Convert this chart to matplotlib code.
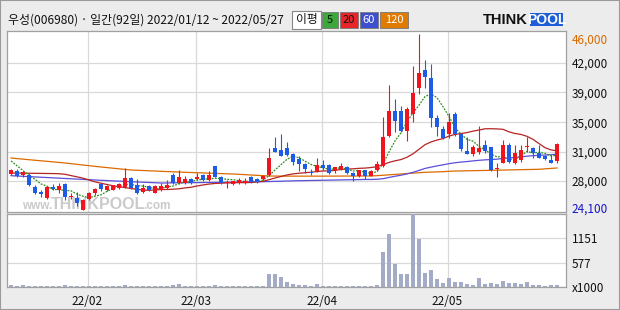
import numpy as np
import pandas as pd
import matplotlib
matplotlib.use('Agg')
import matplotlib.pyplot as plt
from matplotlib.patches import Rectangle

# 데이터 ##############################################################
month_labels = ['22/02', '22/03', '22/04', '22/05']
month_start = [13, 31, 52, 73]

opens = [28600, 29050, 28550, 28550, 27050, 26350, 25600, 27050, 26650, 27350,
         25800, 25600, 24150, 25500, 26250, 27350, 26650, 26700, 26850, 27050,
         28150, 27200, 26450, 27150, 26300, 26700, 26950, 28500, 27450, 27550,
         27950, 27950, 28500, 27900, 29600, 28200, 27450, 27400, 27450, 27550,
         28300, 28000, 28000, 28500, 31900, 31600, 31900, 31050, 30450, 29850,
         28900, 29000, 29750, 29750, 29100, 29250, 29550, 28750, 28350, 29100,
         28400, 29150, 29600, 33400, 36400, 36400, 34000, 36100, 39300, 41500,
         40550, 35550, 34200, 33600, 36050, 33600, 31500, 31100, 31400, 32200,
         32000, 29200, 30050, 32200, 30050, 30350, 31950, 31900, 31200, 30800,
         30350, 30300]
highs = [29250, 29200, 28950, 28700, 27200, 26700, 27150, 27350, 27550, 27450,
         26250, 26450, 25500, 26450, 26850, 27450, 27250, 27300, 27550, 29350,
         28300, 27950, 27350, 27250, 27250, 27450, 27900, 28700, 29100, 28400,
         28150, 28700, 28600, 29050, 29650, 28400, 27900, 27800, 28100, 28100,
         28400, 28100, 28500, 31900, 33250, 33600, 32650, 31200, 30800, 29950,
         29250, 30650, 30350, 29850, 29550, 29950, 29600, 28850, 29150, 29150,
         29150, 30300, 35700, 39650, 37950, 37050, 37000, 42050, 46000, 42750,
         42300, 35900, 34550, 36200, 36300, 33700, 33200, 32200, 34600, 32850,
         32000, 29950, 32850, 32450, 32200, 32200, 33250, 31950, 32200, 31000,
         31000, 32500]
lows = [28500, 28200, 28200, 27150, 26150, 25750, 25500, 26650, 26300, 25400,
        25550, 24700, 24100, 25400, 26000, 26550, 26500, 26650, 26750, 26950,
        26750, 26150, 26300, 26500, 26250, 26550, 26800, 27350, 27350, 27400,
        27400, 27900, 27800, 27800, 28200, 27400, 26950, 27300, 27400, 27400,
        27450, 27500, 27900, 28400, 31300, 30800, 30900, 29750, 29000, 28700,
        28550, 28900, 29100, 28600, 28700, 29100, 28600, 27700, 28250, 28050,
        28350, 29050, 29450, 33250, 33900, 33850, 32750, 35100, 38600, 39300,
        34400, 33400, 32950, 33150, 33300, 31500, 31050, 30800, 31050, 31200,
        29000, 28300, 29950, 29950, 29850, 30100, 31400, 30550, 30550, 30350,
        29950, 30050]
closes = [29100, 28400, 28850, 27200, 26300, 26200, 27050, 26750, 27150, 25800,
          25950, 25000, 25400, 26300, 26750, 26750, 27150, 27200, 27400, 28100,
          26900, 26300, 26950, 26650, 27150, 27150, 27250, 27450, 28200, 28000,
          27550, 28200, 27900, 28500, 28300, 27450, 27650, 27700, 27900, 27800,
          27600, 27600, 28400, 30650, 31400, 30850, 31000, 30150, 29850, 29250,
          28800, 29750, 29400, 28800, 29550, 29600, 28700, 28350, 29100, 28400,
          28950, 29850, 33200, 36400, 35250, 34000, 36700, 38700, 41150, 40650,
          35600, 34400, 33100, 35050, 33600, 31750, 31100, 32000, 31800, 31500,
          29100, 29350, 32200, 30150, 31200, 31600, 32000, 31200, 30650, 30450,
          30050, 32350]
# 거래량 (x1000)
volumes = [39, 23, 39, 23, 15, 15, 15, 15, 15, 39,
           15, 15, 15, 15, 15, 15, 15, 15, 15, 39,
           15, 15, 15, 15, 15, 15, 15, 39, 62, 15,
           15, 15, 15, 15, 39, 15, 15, 15, 15, 15,
           15, 15, 15, 317, 317, 247, 108, 70, 46, 46,
           31, 62, 23, 23, 23, 23, 23, 23, 23, 23,
           23, 39, 820, 1262, 533, 301, 317, 1726, 1140, 340,
           402, 178, 85, 201, 124, 108, 70, 46, 201, 70,
           85, 70, 147, 85, 85, 62, 124, 39, 39, 23,
           39, 54]

# 이동평균 앞부분 (기간 이전 데이터가 없어 차트에서 읽은 값)
ma5_head = [30250, 29650, 29050, 28450]
ma20_head = [28750, 28740, 28730, 28720, 28710, 28700, 28690, 28680, 28660, 28590,
             28430, 28270, 28110, 27880, 27650, 27480, 27320, 27170, 27050]
ma60_head = [28415, 28377, 28339, 28300, 28262, 28224, 28186, 28148, 28110, 28071,
             28033, 27995, 27957, 27918, 27880, 27845, 27810, 27775, 27740, 27705,
             27670, 27638, 27606, 27574, 27542, 27509, 27515, 27525, 27535, 27545,
             27550, 27558, 27565, 27571, 27582, 27593, 27604, 27615, 27626, 27637,
             27648, 27659, 27670, 27690, 27711, 27732, 27753, 27773, 27794, 27808,
             27822, 27836, 27850, 27864, 27878, 27892, 27906, 27918, 27930]
ma120 = [30612, 30540, 30470, 30400, 30330, 30265, 30200, 30130, 30060, 29991,
         29910, 29825, 29740, 29660, 29575, 29495, 29420, 29345, 29270, 29195,
         29122, 29090, 29060, 29025, 28995, 28960, 28930, 28900, 28870, 28837,
         28810, 28785, 28760, 28730, 28705, 28680, 28650, 28626, 28585, 28545,
         28500, 28460, 28420, 28378, 28370, 28365, 28360, 28360, 28360, 28360,
         28360, 28360, 28360, 28365, 28365, 28370, 28370, 28375, 28375, 28380,
         28380, 28420, 28470, 28520, 28575, 28626, 28680, 28730, 28785, 28837,
         28862, 28887, 28912, 28960, 28990, 29010, 29025, 29036, 29052, 29068,
         29084, 29100, 29116, 29132, 29148, 29164, 29180, 29195, 29210, 29265,
         29320, 29371]

price_grid = [42400, 38750, 35050, 31400, 27750]
price_grid_labels = ['42,000', '39,000', '35,000', '31,000', '28,000']
vol_ticks = [0, 577, 1151]
vol_tick_labels = ['x1000', '577', '1151']

# 스타일 ##############################################################
W, H = 620, 310
BG = '#ececec'
GRID = '#d9d9d9'
EDGE = '#a0a0a0'
UP = '#f0141e'
DOWN = '#1f5ce6'
C5, C20, C60, C120 = '#2f8f1f', '#b52424', '#5b4fd8', '#dc6a00'
NUM_FONT = ['Liberation Sans Narrow', 'Noto Sans CJK KR', 'DejaVu Sans']
LBL = 8.5


def fx(x):
    return x / W


def fy(y):
    return 1 - y / H


n = len(closes)
idx = np.arange(n)
c = pd.Series(closes, dtype=float)


def moving_avg(win, head):
    m = c.rolling(win).mean()
    m.iloc[:len(head)] = head
    return m


ma5 = moving_avg(5, ma5_head)
ma20 = moving_avg(20, ma20_head)
ma60 = moving_avg(60, ma60_head)

fig = plt.figure(figsize=(W / 100, H / 100), dpi=100, facecolor=BG)

ax = fig.add_axes([fx(7), fy(212), fx(566) - fx(7), fy(31) - fy(212)])
axv = fig.add_axes([fx(7), fy(287), fx(566) - fx(7), fy(214) - fy(287)])

for a in (ax, axv):
    a.set_facecolor('white')
    a.set_xlim(-0.667, 92.5)
    for s in a.spines.values():
        s.set_color(EDGE)
        s.set_linewidth(0.9)
    a.set_xticks([m - 0.25 for m in month_start])
    a.grid(True, color=GRID, linewidth=0.9)
    a.set_axisbelow(True)
    a.yaxis.tick_right()
    a.tick_params(length=0, labelsize=LBL, colors='#111111', pad=4.3)

# 가격 패널
ax.set_ylim(23910, 46372)
ax.set_yticks(price_grid, price_grid_labels, family=NUM_FONT, fontsize=LBL)
ax.set_xticklabels([])

ax.plot(idx, ma120, color=C120, lw=0.9, zorder=2)
ax.plot(idx, ma60, color=C60, lw=0.9, zorder=2)
ax.plot(idx, ma20, color=C20, lw=0.9, zorder=2)
ax.plot(idx, ma5, color=C5, lw=0.9, ls=(0, (1.5, 1)), zorder=2)

o = np.array(opens, dtype=float)
cl = np.array(closes, dtype=float)
colors = [UP if cl[i] >= o[i] else DOWN for i in range(n)]
ax.vlines(idx, lows, highs, colors=colors, linewidth=0.8, zorder=3)
body_lo = np.minimum(o, cl)
body_h = np.maximum(np.abs(cl - o), 110)
ax.bar(idx, body_h, bottom=body_lo, width=0.68, color=colors, linewidth=0, zorder=4)

ax.annotate('46,000', xy=(1, max(highs)), xycoords=('axes fraction', 'data'),
            xytext=(4.3, 0), textcoords='offset points', va='top', ha='left',
            color='#d86a00', fontsize=LBL, family=NUM_FONT, annotation_clip=False)
ax.annotate('24,100', xy=(1, min(lows)), xycoords=('axes fraction', 'data'),
            xytext=(4.3, -1.5), textcoords='offset points', va='baseline', ha='left',
            color='#1414c8', fontsize=LBL, family=NUM_FONT, annotation_clip=False)

# 워터마크
wm = '#cacaca'
ax.text(fx(22), fy(209), 'www.', transform=fig.transFigure, color=wm, fontsize=8.5,
        fontweight='bold', family='Liberation Sans', va='baseline', zorder=1)
ax.text(fx(51), fy(209), 'THINKPOOL', transform=fig.transFigure, color=wm, fontsize=11.5,
        fontweight='bold', family='Liberation Sans', va='baseline', zorder=1)
ax.text(fx(143), fy(209), '.com', transform=fig.transFigure, color=wm, fontsize=8.5,
        fontweight='bold', family='Liberation Sans', va='baseline', zorder=1)

# 거래량 패널
axv.set_ylim(0, 1726)
axv.bar(idx, volumes, width=0.68, color='#a3abc6', linewidth=0, zorder=3)
axv.set_yticks(vol_ticks, vol_tick_labels, family=NUM_FONT, fontsize=LBL)
axv.set_xticklabels(month_labels, family=NUM_FONT, fontsize=LBL)
axv.tick_params(axis='x', pad=5.5)

# 상단 헤더
fig.text(fx(8), fy(20), '우성(006980) · 일간(92일) 2022/01/12 ~ 2022/05/27',
         va='center', ha='left', fontsize=8.6, family=NUM_FONT, color='#111111')

fig.patches.append(Rectangle((fx(292), fy(29)), fx(321) - fx(292), fy(11) - fy(29),
                             transform=fig.transFigure, facecolor='white',
                             edgecolor='#888888', linewidth=0.8))
fig.text(fx(306.5), fy(20), '이평', va='center', ha='center', fontsize=8.5,
         family=['Noto Sans CJK KR'], color='#111111')

ma_boxes = [('5', 322, 338, '#3ca83c', '#111111'),
            ('20', 340, 358, '#e8262a', '#111111'),
            ('60', 360, 378, '#3d4fd0', '#ffffff'),
            ('120', 380, 408, '#e07a00', '#ffffff')]
for lbl, x0, x1, fc, tc in ma_boxes:
    fig.patches.append(Rectangle((fx(x0), fy(28)), fx(x1) - fx(x0), fy(12) - fy(28),
                                 transform=fig.transFigure, facecolor=fc,
                                 edgecolor='#777777', linewidth=0.6))
    fig.text(fx((x0 + x1) / 2), fy(20), lbl, va='center', ha='center', fontsize=8,
             family=NUM_FONT, color=tc)

# THINKPOOL 로고
fig.text(fx(483), fy(20), 'THINK', va='center', ha='left', fontsize=10.5,
         fontweight='bold', family='Liberation Sans', color='#111111')
fig.patches.append(Rectangle((fx(530), fy(26)), fx(563) - fx(530), fy(13) - fy(26),
                             transform=fig.transFigure, facecolor='#1e5fd8',
                             edgecolor='none'))
fig.text(fx(546.5), fy(20), 'POOL', va='center', ha='center', fontsize=10,
         fontweight='bold', family='Liberation Sans', color='white')

# 외곽선
fig.patches.append(Rectangle((0, 0), 1, 1, transform=fig.transFigure, fill=False,
                             edgecolor='#9a9a9a', linewidth=1.5))

fig.savefig('out.png', dpi=100, facecolor=BG)
